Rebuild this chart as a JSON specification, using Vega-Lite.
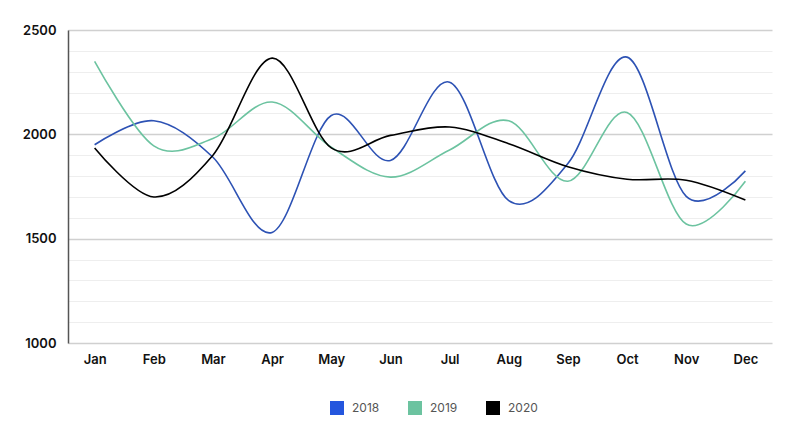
{
  "$schema": "https://vega.github.io/schema/vega-lite/v6.json",
  "autosize": {"type": "none"},
  "width": 704,
  "height": 313,
  "padding": {"left": 68, "top": 30, "right": 28, "bottom": 82},
  "background": "white",
  "config": {"view": {"stroke": null}, "font": "Inter"},
  "data": {
    "values": [
      {"month": "Jan", "year": "2018", "value": 1950},
      {"month": "Feb", "year": "2018", "value": 2065},
      {"month": "Mar", "year": "2018", "value": 1890},
      {"month": "Apr", "year": "2018", "value": 1530},
      {"month": "May", "year": "2018", "value": 2090},
      {"month": "Jun", "year": "2018", "value": 1875},
      {"month": "Jul", "year": "2018", "value": 2250},
      {"month": "Aug", "year": "2018", "value": 1682},
      {"month": "Sep", "year": "2018", "value": 1860},
      {"month": "Oct", "year": "2018", "value": 2370},
      {"month": "Nov", "year": "2018", "value": 1703},
      {"month": "Dec", "year": "2018", "value": 1825},
      {"month": "Jan", "year": "2019", "value": 2350},
      {"month": "Feb", "year": "2019", "value": 1945},
      {"month": "Mar", "year": "2019", "value": 1980},
      {"month": "Apr", "year": "2019", "value": 2155},
      {"month": "May", "year": "2019", "value": 1938},
      {"month": "Jun", "year": "2019", "value": 1795},
      {"month": "Jul", "year": "2019", "value": 1925},
      {"month": "Aug", "year": "2019", "value": 2065},
      {"month": "Sep", "year": "2019", "value": 1775},
      {"month": "Oct", "year": "2019", "value": 2105},
      {"month": "Nov", "year": "2019", "value": 1570},
      {"month": "Dec", "year": "2019", "value": 1775},
      {"month": "Jan", "year": "2020", "value": 1935},
      {"month": "Feb", "year": "2020", "value": 1700},
      {"month": "Mar", "year": "2020", "value": 1900},
      {"month": "Apr", "year": "2020", "value": 2365},
      {"month": "May", "year": "2020", "value": 1935},
      {"month": "Jun", "year": "2020", "value": 1995},
      {"month": "Jul", "year": "2020", "value": 2035},
      {"month": "Aug", "year": "2020", "value": 1955},
      {"month": "Sep", "year": "2020", "value": 1845},
      {"month": "Oct", "year": "2020", "value": 1785},
      {"month": "Nov", "year": "2020", "value": 1780},
      {"month": "Dec", "year": "2020", "value": 1685}
    ]
  },
  "mark": {"type": "line", "interpolate": "cardinal", "tension": 0, "strokeWidth": 1.6},
  "encoding": {
    "x": {
      "field": "month",
      "type": "ordinal",
      "sort": ["Jan","Feb","Mar","Apr","May","Jun","Jul","Aug","Sep","Oct","Nov","Dec"],
      "scale": {"type": "point", "padding": 0.45},
      "axis": {
        "title": null,
        "domain": false,
        "ticks": false,
        "grid": false,
        "labelAngle": 0,
        "labelPadding": 10,
        "labelFont": "Inter",
        "labelFontSize": 13,
        "labelFontWeight": 600,
        "labelColor": "#111111"
      }
    },
    "y": {
      "field": "value",
      "type": "quantitative",
      "scale": {"domain": [1000, 2500], "nice": false, "zero": false},
      "axis": {
        "title": null,
        "format": "d",
        "values": [1000,1100,1200,1300,1400,1500,1600,1700,1800,1900,2000,2100,2200,2300,2400,2500],
        "labelExpr": "datum.value % 500 === 0 ? datum.label : ''",
        "labelFont": "Inter",
        "labelFontSize": 13,
        "labelFontWeight": 600,
        "labelColor": "#111111",
        "labelPadding": 12,
        "ticks": false,
        "domain": true,
        "domainColor": "#555555",
        "domainWidth": 1.5,
        "grid": true,
        "gridColor": {"condition": {"test": "datum.value % 500 === 0", "value": "#d0d0d0"}, "value": "#eeeeee"},
        "gridWidth": {"condition": {"test": "datum.value % 500 === 0", "value": 1.3}, "value": 1}
      }
    },
    "color": {
      "field": "year",
      "type": "nominal",
      "scale": {"domain": ["2018","2019","2020"], "range": ["#2d52b4", "#6cc3a0", "#000000"]},
      "legend": {
        "title": null,
        "orient": "none",
        "direction": "horizontal",
        "legendX": 262,
        "legendY": 371,
        "symbolType": "square",
        "symbolSize": 196,
        "labelFont": "Inter",
        "labelFontSize": 12,
        "labelColor": "#555555",
        "labelOffset": 8,
        "columnPadding": 28,
        "encode": {
          "symbols": {
            "update": {
              "fill": {"signal": "datum.value === '2018' ? '#2456de' : scale('color', datum.value)"},
              "fillOpacity": {"value": 1},
              "strokeWidth": {"value": 0}
            }
          }
        }
      }
    }
  }
}
